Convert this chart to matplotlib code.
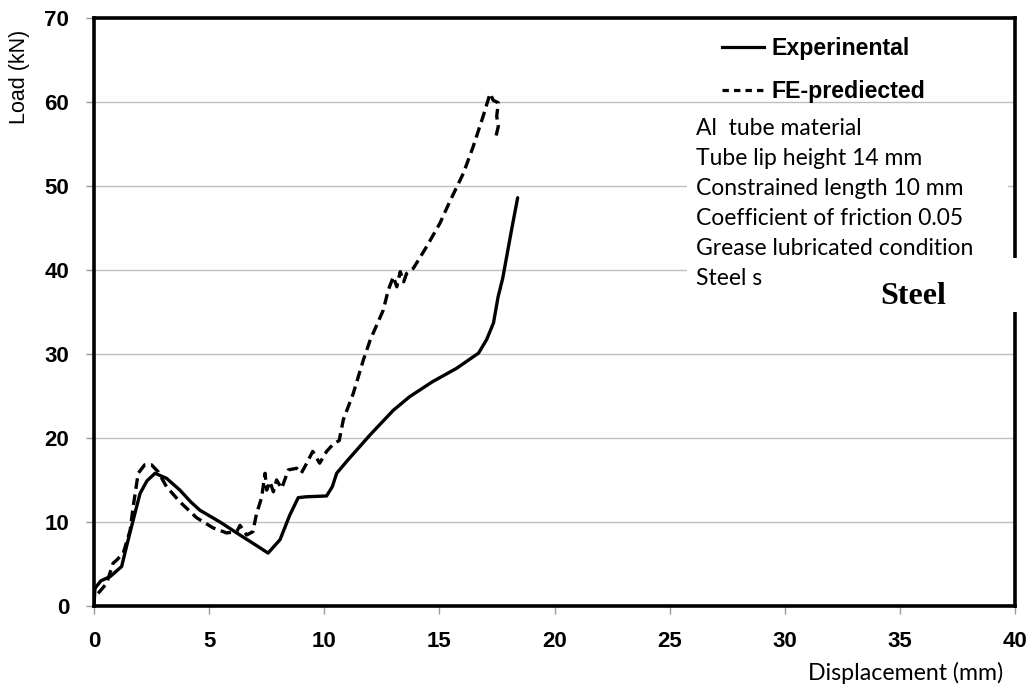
import matplotlib
matplotlib.use("Agg")
import matplotlib.pyplot as plt
from matplotlib.lines import Line2D
from matplotlib.patches import Rectangle

# ---- data ----
exp_disp = [0, 0.04, 0.3, 0.7, 1.2, 1.45, 1.7, 2.0, 2.3, 2.65, 3.15, 3.73, 4.2, 4.6,
            5.47, 6.34, 7.0, 7.56, 8.08, 8.5, 8.87, 9.2, 10.1, 10.35, 10.54, 11.0,
            12.0, 13.0, 13.7, 14.7, 15.75, 16.7, 17.05, 17.35, 17.55, 17.75, 17.95,
            18.15, 18.4]
exp_load = [0, 2.1, 3.0, 3.5, 4.7, 7.5, 10.2, 13.4, 14.9, 15.8, 15.2, 13.8, 12.4, 11.4,
            10.0, 8.45, 7.3, 6.3, 7.9, 10.8, 12.9, 13.0, 13.1, 14.2, 15.8, 17.3,
            20.4, 23.3, 24.9, 26.7, 28.3, 30.1, 31.7, 33.7, 36.8, 39.0, 42.0,
            45.0, 48.6]

fe_disp = [0.18, 0.55, 0.83, 1.0, 1.27, 1.57, 1.7, 1.92, 2.2, 2.5, 2.78, 3.15, 3.73,
           4.46, 5.17, 5.76, 6.2, 6.34, 6.63, 6.9, 7.06, 7.28, 7.43, 7.5, 7.64, 7.79,
           7.93, 8.15, 8.44, 8.8, 9.0, 9.2, 9.5, 9.8, 10.1, 10.4, 10.65, 10.83, 11.26,
           11.7, 12.0, 12.56, 12.78, 13.0, 13.15, 13.3, 13.45, 13.58, 13.87, 14.45,
           15.03, 15.46, 16.04, 16.47, 16.9, 17.2, 17.34, 17.56, 17.49, 17.56, 17.42]
fe_load = [1.5, 2.7, 5.1, 5.5, 6.3, 9.0, 11.8, 15.8, 16.8, 16.8, 16.0, 14.2, 12.4,
           10.5, 9.3, 8.7, 8.85, 9.6, 8.45, 8.85, 11.0, 12.9, 15.8, 13.8, 14.8, 13.6,
           15.0, 14.0, 16.2, 16.4, 15.8, 16.8, 18.4, 17.0, 18.4, 19.3, 19.7, 22.2, 25.3,
           29.3, 31.7, 35.2, 37.6, 39.2, 38.0, 39.8, 38.6, 39.6, 40.2, 42.8,
           45.6, 48.2, 51.5, 54.7, 58.3, 61.0, 60.2, 59.9, 58.3, 57.1, 55.5]

x_ticks = [0, 5, 10, 15, 20, 25, 30, 35, 40]
y_ticks = [0, 10, 20, 30, 40, 50, 60, 70]
legend_labels = ["Experinental", "FE-prediected"]
notes = ["Al  tube material", "Tube lip height 14 mm", "Constrained length 10 mm",
         "Coefficient of friction 0.05", "Grease lubricated condition", "Steel s"]

W, H = 1033, 692
fig = plt.figure(figsize=(W / 100, H / 100), dpi=100)
ax = fig.add_axes([94 / W, 1 - 606 / H, (1015 - 94) / W, (606 - 18) / H])

ax.plot(exp_disp, exp_load, color="black", lw=2.4, solid_capstyle="round",
        solid_joinstyle="round", zorder=3)
ax.plot(fe_disp, fe_load, color="black", lw=2.4, linestyle=(0, (3.2, 1.7)), zorder=3)

ax.set_xlim(0, 40)
ax.set_ylim(0, 70)
ax.set_xticks(x_ticks)
ax.set_yticks(y_ticks)
ax.grid(axis="y", color="#BFBFBF", lw=1.0)
ax.set_axisbelow(True)
for s in ax.spines.values():
    s.set_linewidth(2.6)
    s.set_color("black")
ax.tick_params(axis="both", direction="out", length=6, width=1, color="#999999",
               pad=12)
for lab in ax.get_xticklabels() + ax.get_yticklabels():
    lab.set_fontfamily("Liberation Sans")
    lab.set_fontweight("bold")
    lab.set_fontsize(16)

# white boxes
fig.patches.append(Rectangle((687 / W, 1 - 292 / H), (1008 - 687) / W, (292 - 108) / H,
                             transform=fig.transFigure, facecolor="white",
                             edgecolor="none", zorder=5))
fig.patches.append(Rectangle((860 / W, 1 - 312 / H), (1030 - 860) / W, (312 - 258) / H,
                             transform=fig.transFigure, facecolor="white",
                             edgecolor="none", zorder=5))

# legend
handles = [Line2D([], [], color="black", lw=2.3),
           Line2D([], [], color="black", lw=2.3, linestyle=(0, (2.0, 1.6)))]
leg = fig.legend(handles, legend_labels, loc="upper left",
                 bbox_to_anchor=(722 / W, 1 - 37 / H), frameon=False,
                 prop={"family": "Liberation Sans", "weight": "bold", "size": 16.7},
                 handlelength=1.8, handletextpad=0.33, labelspacing=0.88,
                 borderpad=0, borderaxespad=0)
leg.set_zorder(6)

# notes
for i, t in enumerate(notes):
    fig.text(696 / W, 1 - (135 + i * 30) / H, t, family="Lato", fontsize=16.5,
             color="black", va="baseline", ha="left", zorder=7)
fig.text(880 / W, 1 - 304 / H, "Steel", family="Liberation Serif", weight="bold",
         fontsize=23, va="baseline", ha="left", zorder=7)

# axis labels
fig.text(20 / W, 1 - 77 / H, "Load (kN)", family="Liberation Sans", fontsize=15.5,
         rotation=90, ha="center", va="center")
fig.text(1003 / W, 1 - 680 / H, "Displacement (mm)", family="Lato", fontsize=16.7,
         ha="right", va="baseline")

fig.savefig("out.png", dpi=100)
